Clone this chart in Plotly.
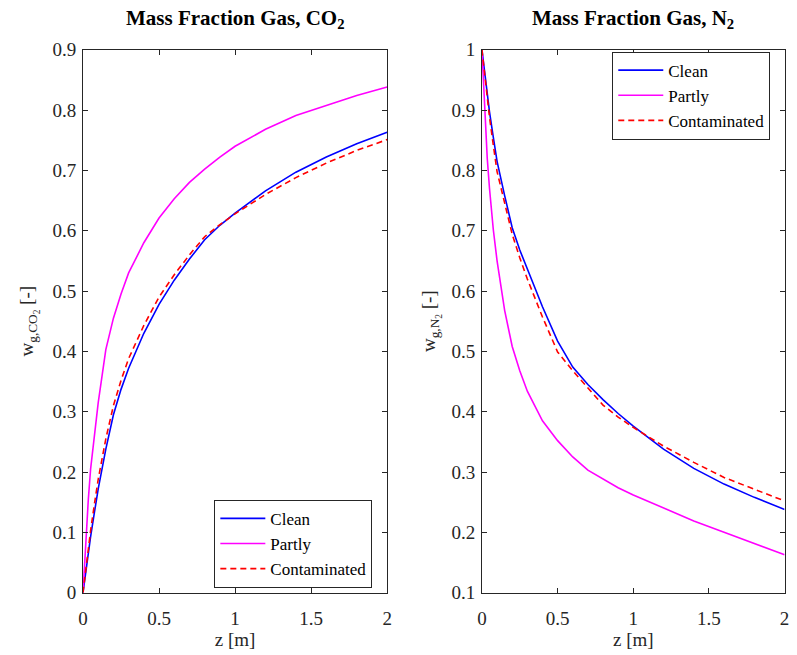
import plotly.graph_objects as go

# axial position [m]
z = [0, 0.02, 0.035, 0.05, 0.075, 0.1, 0.15, 0.2, 0.25, 0.3, 0.4, 0.5, 0.6, 0.7, 0.8, 0.9,
     1.0, 1.2, 1.4, 1.6, 1.8, 2.0]

# gas mass fraction of CO2
co2_clean = [0, 0.04, 0.068, 0.093, 0.133, 0.172, 0.238, 0.295, 0.337, 0.372, 0.43, 0.478,
             0.518, 0.553, 0.585, 0.609, 0.629, 0.666, 0.697, 0.722, 0.744, 0.763]
co2_partly = [0, 0.1, 0.155, 0.205, 0.265, 0.315, 0.403, 0.455, 0.495, 0.53, 0.58, 0.621,
              0.653, 0.68, 0.702, 0.722, 0.74, 0.768, 0.791, 0.808, 0.824, 0.838]
co2_contam = [0, 0.045, 0.075, 0.103, 0.147, 0.188, 0.255, 0.31, 0.352, 0.388, 0.443, 0.49,
              0.527, 0.56, 0.59, 0.61, 0.628, 0.66, 0.688, 0.712, 0.733, 0.751]

# gas mass fraction of N2
n2_clean = [1.0, 0.955, 0.925, 0.897, 0.855, 0.815, 0.758, 0.705, 0.668, 0.636, 0.574, 0.517,
            0.474, 0.445, 0.42, 0.397, 0.376, 0.338, 0.306, 0.28, 0.258, 0.238]
n2_partly = [1.0, 0.887, 0.82, 0.77, 0.702, 0.65, 0.568, 0.508, 0.468, 0.434, 0.385, 0.352,
             0.325, 0.303, 0.288, 0.274, 0.262, 0.24, 0.219, 0.2, 0.181, 0.163]
n2_contam = [1.0, 0.952, 0.918, 0.888, 0.842, 0.798, 0.746, 0.694, 0.655, 0.62, 0.557, 0.499,
             0.468, 0.44, 0.411, 0.391, 0.374, 0.343, 0.316, 0.291, 0.271, 0.252]

names = ["Clean", "Partly", "Contaminated"]
colors = ["#0000FF", "#FF00FF", "#FF0000"]
dashes = ["solid", "solid", "6px,4px"]

FONT = "Liberation Serif"
AX = "#262626"

fig = go.Figure()
for ys, nm, c, d in zip([co2_clean, co2_partly, co2_contam], names, colors, dashes):
    fig.add_trace(go.Scatter(x=z, y=ys, mode="lines", name=nm, xaxis="x", yaxis="y",
                             line=dict(color=c, width=1.6, dash=d), legend="legend"))
for ys, nm, c, d in zip([n2_clean, n2_partly, n2_contam], names, colors, dashes):
    fig.add_trace(go.Scatter(x=z, y=ys, mode="lines", name=nm, xaxis="x2", yaxis="y2",
                             line=dict(color=c, width=1.6, dash=d), legend="legend2"))

ytop, ybot = 1 - 41 / 655, 1 - 602 / 655
common = dict(showline=True, linecolor=AX, linewidth=1, mirror="ticks", ticks="inside",
              ticklen=5, tickcolor=AX, tickwidth=1, showgrid=False, zeroline=False,
              tickfont=dict(family=FONT, size=19, color=AX))
label_font = dict(family=FONT, size=19, color=AX)
legend_font = dict(family=FONT, size=17, color="black")
title_font = dict(family=FONT, size=21, color="black")

fig.update_layout(
    width=797, height=655, margin=dict(l=0, r=0, t=0, b=0),
    paper_bgcolor="white", plot_bgcolor="white", font=dict(family=FONT, color=AX),
    xaxis=dict(domain=[79 / 797, 387 / 797], range=[0, 2], dtick=0.5, anchor="y",
               ticklabelstandoff=9,
               title=dict(text="z [m]", font=label_font, standoff=4), **common),
    yaxis=dict(domain=[ybot, ytop], range=[0, 0.9], dtick=0.1, anchor="x",
               ticklabelstandoff=2,
               title=dict(text="w<sub>g,CO<sub>2</sub></sub> [-]", font=label_font, standoff=13),
               **common),
    xaxis2=dict(domain=[483 / 797, 789.5 / 797], range=[0, 2], dtick=0.5, anchor="y2",
                ticklabelstandoff=9,
                title=dict(text="z [m]", font=label_font, standoff=4), **common),
    yaxis2=dict(domain=[ybot, ytop], range=[0.1, 1], dtick=0.1, anchor="x2",
                ticklabelstandoff=2,
                title=dict(text="w<sub>g,N<sub>2</sub></sub> [-]", font=label_font, standoff=10),
                **common),
    legend=dict(x=372 / 797, y=1 - 597 / 655, xanchor="right", yanchor="bottom",
                bordercolor=AX, borderwidth=1, bgcolor="white", tracegroupgap=0,
                itemwidth=45, font=legend_font),
    legend2=dict(x=775 / 797, y=1 - 43 / 655, xanchor="right", yanchor="top",
                 bordercolor=AX, borderwidth=1, bgcolor="white", tracegroupgap=0,
                 itemwidth=45, font=legend_font),
    annotations=[
        dict(text="<b>Mass Fraction Gas, CO<sub>2</sub></b>", x=233 / 797, y=1 - 25 / 655,
             xref="paper", yref="paper", xanchor="center", yanchor="bottom", showarrow=False,
             font=title_font),
        dict(text="<b>Mass Fraction Gas, N<sub>2</sub></b>", x=636 / 797, y=1 - 25 / 655,
             xref="paper", yref="paper", xanchor="center", yanchor="bottom", showarrow=False,
             font=title_font),
    ],
)

fig.write_html("out.html")
